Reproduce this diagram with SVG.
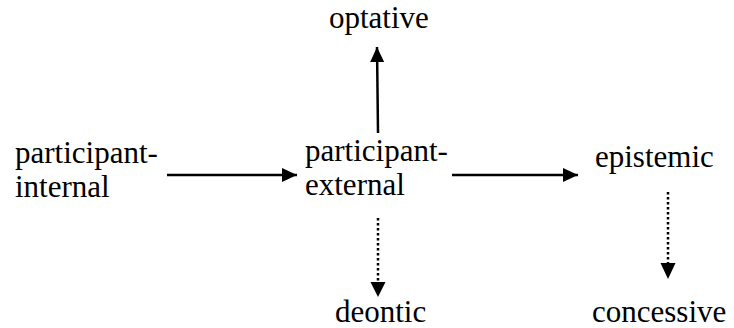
<svg xmlns="http://www.w3.org/2000/svg" width="734" height="328" viewBox="0 0 734 328">
<style>
.c { stroke: #000; stroke-width: 2.5; fill: none; }
.d { stroke-dasharray: 2.5 2.5; }
</style>
<defs>
<marker id="ah" markerUnits="userSpaceOnUse" markerWidth="16" markerHeight="16" refX="15" refY="7" orient="auto">
<path d="M0,0 L15,7 L0,14 z" fill="#000"/>
</marker>
</defs>
<rect width="734" height="328" fill="#fff"/>
<g font-family="Times New Roman, Liberation Serif, Times, Noto Serif, DejaVu Serif, serif" font-size="31" fill="#000">
<g id="participant-internal"><text x="15" y="163">participant-</text><text x="15" y="197">internal</text></g>
<g id="participant-external"><text x="305" y="161">participant-</text><text x="305" y="195">external</text></g>
<g id="epistemic"><text x="595" y="167">epistemic</text></g>
<g id="optative"><text x="329" y="28">optative</text></g>
<g id="deontic"><text x="335" y="322">deontic</text></g>
<g id="concessive"><text x="592" y="322">concessive</text></g>
</g>
<g id="connectors">
<line class="c" x1="167" y1="175" x2="297" y2="175" marker-end="url(#ah)"/>
<line class="c" x1="452" y1="175" x2="578" y2="175" marker-end="url(#ah)"/>
<line class="c" x1="378" y1="133" x2="377" y2="47" marker-end="url(#ah)"/>
<line class="c d" x1="378" y1="218" x2="378" y2="283"/>
<path d="M370.5,282 L378,297 L385.5,282 z" fill="#000"/>
<line class="c d" x1="668" y1="192" x2="668" y2="264"/>
<path d="M660.5,263 L668,279 L675.5,263 z" fill="#000"/>
</g>
</svg>
